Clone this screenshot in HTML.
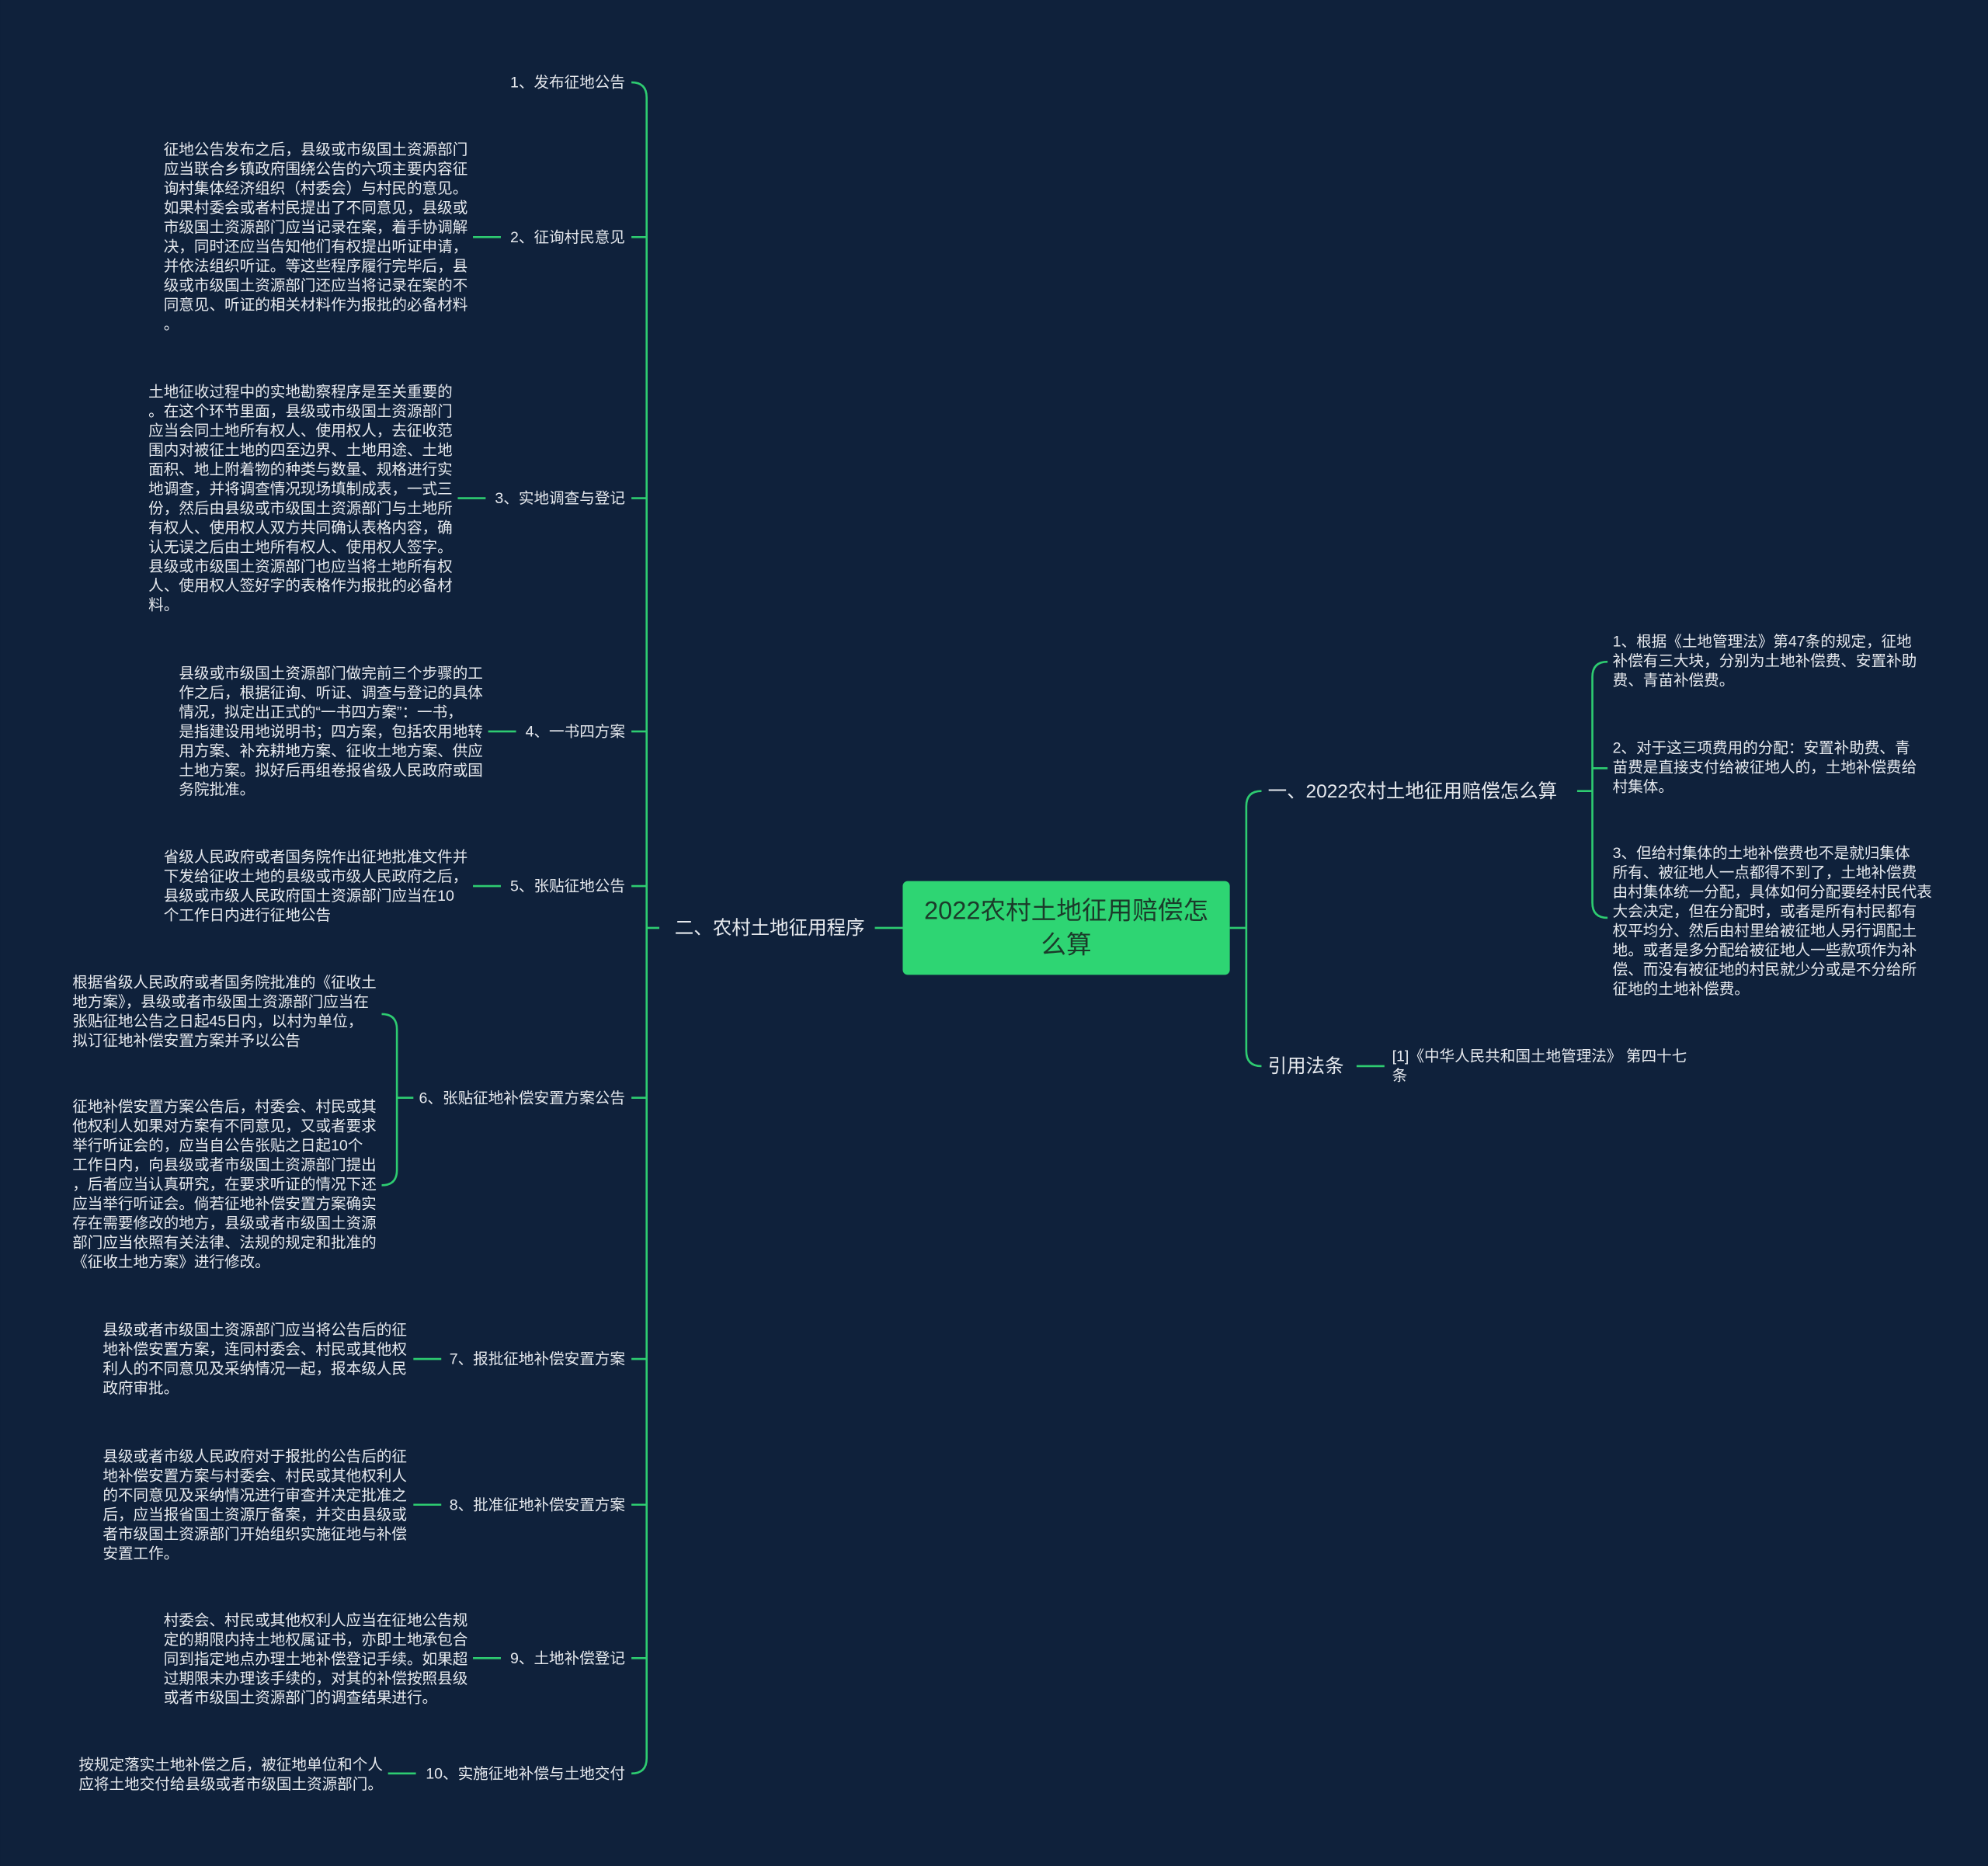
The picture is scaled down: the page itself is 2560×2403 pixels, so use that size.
<!DOCTYPE html>
<html><head><meta charset="utf-8"><style>
html,body{margin:0;padding:0;background:#0f213b;}
svg{display:block}
text{font-family:"Liberation Sans","Noto Sans CJK SC",sans-serif;fill:#e6e9ee;}
.s{font-size:12px}
.m{font-size:15px}
</style></head><body>
<svg width="2560" height="2403" viewBox="0 0 1568 1472" xmlns="http://www.w3.org/2000/svg">
<rect width="1568" height="1472" fill="#0f213b"/>
<g fill="none" stroke="#2ecc71" stroke-width="1.6">
<!-- left spine -->
<path d="M498,65 Q510,65 510,77 L510,1387 Q510,1399 498,1399"/>
<path d="M498,187 H510 M498,393 H510 M498,577 H510 M498,699 H510 M498,866 H510 M498,1072 H510 M498,1187 H510 M498,1308 H510 M510,732 H520"/>
<path d="M690,732 H712 M970,732 H983"/>
<!-- detail connectors -->
<path d="M373,187 H395 M361,393 H383 M385,577 H407 M373,699 H395 M326,1072 H348 M326,1187 H348 M373,1308 H395 M306,1399 H328"/>
<!-- item6 bracket -->
<path d="M301,800 Q313,800 313,812 L313,923 Q313,935 301,935 M313,866 H326"/>
<!-- right spine -->
<path d="M995,624 Q983,624 983,636 L983,829 Q983,841 995,841"/>
<path d="M1244,624 H1256 M1268,522 Q1256,522 1256,534 L1256,712 Q1256,724 1268,724 M1256,606 H1268"/>
<path d="M1070,841 H1092"/>
</g>
<rect x="712" y="695" width="258" height="74" rx="4" fill="#2ed573"/>
<text x="841" y="725" text-anchor="middle" style="font-size:20px;fill:#1b3b2a">2022农村土地征用赔偿怎</text>
<text x="841" y="752" text-anchor="middle" style="font-size:20px;fill:#1b3b2a">么算</text>
<text class="m" x="682" y="737" text-anchor="end">二、农村土地征用程序</text>
<text class="m" x="1000" y="629">一、2022农村土地征用赔偿怎么算</text>
<text class="m" x="1000" y="846">引用法条</text>
<g class="s" text-anchor="end">
<text x="493" y="69">1、发布征地公告</text>
<text x="493" y="191">2、征询村民意见</text>
<text x="493" y="397">3、实地调查与登记</text>
<text x="493" y="581">4、一书四方案</text>
<text x="493" y="703">5、张贴征地公告</text>
<text x="493" y="870">6、张贴征地补偿安置方案公告</text>
<text x="493" y="1076">7、报批征地补偿安置方案</text>
<text x="493" y="1191">8、批准征地补偿安置方案</text>
<text x="493" y="1312">9、土地补偿登记</text>
<text x="493" y="1403">10、实施征地补偿与土地交付</text>
</g>
<g class="s">
<text x="129" y="122"><tspan x="129">征地公告发布之后，县级或市级国土资源部门</tspan><tspan x="129" dy="15.3">应当联合乡镇政府围绕公告的六项主要内容征</tspan><tspan x="129" dy="15.3">询村集体经济组织（村委会）与村民的意见。</tspan><tspan x="129" dy="15.3">如果村委会或者村民提出了不同意见，县级或</tspan><tspan x="129" dy="15.3">市级国土资源部门应当记录在案，着手协调解</tspan><tspan x="129" dy="15.3">决，同时还应当告知他们有权提出听证申请，</tspan><tspan x="129" dy="15.3">并依法组织听证。等这些程序履行完毕后，县</tspan><tspan x="129" dy="15.3">级或市级国土资源部门还应当将记录在案的不</tspan><tspan x="129" dy="15.3">同意见、听证的相关材料作为报批的必备材料</tspan><tspan x="129" dy="15.3">。</tspan></text>
<text x="117" y="313"><tspan x="117">土地征收过程中的实地勘察程序是至关重要的</tspan><tspan x="117" dy="15.3">。在这个环节里面，县级或市级国土资源部门</tspan><tspan x="117" dy="15.3">应当会同土地所有权人、使用权人，去征收范</tspan><tspan x="117" dy="15.3">围内对被征土地的四至边界、土地用途、土地</tspan><tspan x="117" dy="15.3">面积、地上附着物的种类与数量、规格进行实</tspan><tspan x="117" dy="15.3">地调查，并将调查情况现场填制成表，一式三</tspan><tspan x="117" dy="15.3">份，然后由县级或市级国土资源部门与土地所</tspan><tspan x="117" dy="15.3">有权人、使用权人双方共同确认表格内容，确</tspan><tspan x="117" dy="15.3">认无误之后由土地所有权人、使用权人签字。</tspan><tspan x="117" dy="15.3">县级或市级国土资源部门也应当将土地所有权</tspan><tspan x="117" dy="15.3">人、使用权人签好字的表格作为报批的必备材</tspan><tspan x="117" dy="15.3">料。</tspan></text>
<text x="141" y="535"><tspan x="141">县级或市级国土资源部门做完前三个步骤的工</tspan><tspan x="141" dy="15.3">作之后，根据征询、听证、调查与登记的具体</tspan><tspan x="141" dy="15.3">情况，拟定出正式的“一书四方案”：一书，</tspan><tspan x="141" dy="15.3">是指建设用地说明书；四方案，包括农用地转</tspan><tspan x="141" dy="15.3">用方案、补充耕地方案、征收土地方案、供应</tspan><tspan x="141" dy="15.3">土地方案。拟好后再组卷报省级人民政府或国</tspan><tspan x="141" dy="15.3">务院批准。</tspan></text>
<text x="129" y="680"><tspan x="129">省级人民政府或者国务院作出征地批准文件并</tspan><tspan x="129" dy="15.3">下发给征收土地的县级或市级人民政府之后，</tspan><tspan x="129" dy="15.3">县级或市级人民政府国土资源部门应当在10</tspan><tspan x="129" dy="15.3">个工作日内进行征地公告</tspan></text>
<text x="57" y="779"><tspan x="57">根据省级人民政府或者国务院批准的《征收土</tspan><tspan x="57" dy="15.3">地方案》，县级或者市级国土资源部门应当在</tspan><tspan x="57" dy="15.3">张贴征地公告之日起45日内，以村为单位，</tspan><tspan x="57" dy="15.3">拟订征地补偿安置方案并予以公告</tspan></text>
<text x="57" y="877"><tspan x="57">征地补偿安置方案公告后，村委会、村民或其</tspan><tspan x="57" dy="15.3">他权利人如果对方案有不同意见，又或者要求</tspan><tspan x="57" dy="15.3">举行听证会的，应当自公告张贴之日起10个</tspan><tspan x="57" dy="15.3">工作日内，向县级或者市级国土资源部门提出</tspan><tspan x="57" dy="15.3">，后者应当认真研究，在要求听证的情况下还</tspan><tspan x="57" dy="15.3">应当举行听证会。倘若征地补偿安置方案确实</tspan><tspan x="57" dy="15.3">存在需要修改的地方，县级或者市级国土资源</tspan><tspan x="57" dy="15.3">部门应当依照有关法律、法规的规定和批准的</tspan><tspan x="57" dy="15.3">《征收土地方案》进行修改。</tspan></text>
<text x="81" y="1053"><tspan x="81">县级或者市级国土资源部门应当将公告后的征</tspan><tspan x="81" dy="15.3">地补偿安置方案，连同村委会、村民或其他权</tspan><tspan x="81" dy="15.3">利人的不同意见及采纳情况一起，报本级人民</tspan><tspan x="81" dy="15.3">政府审批。</tspan></text>
<text x="81" y="1153"><tspan x="81">县级或者市级人民政府对于报批的公告后的征</tspan><tspan x="81" dy="15.3">地补偿安置方案与村委会、村民或其他权利人</tspan><tspan x="81" dy="15.3">的不同意见及采纳情况进行审查并决定批准之</tspan><tspan x="81" dy="15.3">后，应当报省国土资源厅备案，并交由县级或</tspan><tspan x="81" dy="15.3">者市级国土资源部门开始组织实施征地与补偿</tspan><tspan x="81" dy="15.3">安置工作。</tspan></text>
<text x="129" y="1282"><tspan x="129">村委会、村民或其他权利人应当在征地公告规</tspan><tspan x="129" dy="15.3">定的期限内持土地权属证书，亦即土地承包合</tspan><tspan x="129" dy="15.3">同到指定地点办理土地补偿登记手续。如果超</tspan><tspan x="129" dy="15.3">过期限未办理该手续的，对其的补偿按照县级</tspan><tspan x="129" dy="15.3">或者市级国土资源部门的调查结果进行。</tspan></text>
<text x="62" y="1396"><tspan x="62">按规定落实土地补偿之后，被征地单位和个人</tspan><tspan x="62" dy="15.3">应将土地交付给县级或者市级国土资源部门。</tspan></text>
<text x="1272" y="510"><tspan x="1272">1、根据《土地管理法》第47条的规定，征地</tspan><tspan x="1272" dy="15.3">补偿有三大块，分别为土地补偿费、安置补助</tspan><tspan x="1272" dy="15.3">费、青苗补偿费。</tspan></text>
<text x="1272" y="594"><tspan x="1272">2、对于这三项费用的分配：安置补助费、青</tspan><tspan x="1272" dy="15.3">苗费是直接支付给被征地人的，土地补偿费给</tspan><tspan x="1272" dy="15.3">村集体。</tspan></text>
<text x="1272" y="677"><tspan x="1272">3、但给村集体的土地补偿费也不是就归集体</tspan><tspan x="1272" dy="15.3">所有、被征地人一点都得不到了，土地补偿费</tspan><tspan x="1272" dy="15.3">由村集体统一分配，具体如何分配要经村民代表</tspan><tspan x="1272" dy="15.3">大会决定，但在分配时，或者是所有村民都有</tspan><tspan x="1272" dy="15.3">权平均分、然后由村里给被征地人另行调配土</tspan><tspan x="1272" dy="15.3">地。或者是多分配给被征地人一些款项作为补</tspan><tspan x="1272" dy="15.3">偿、而没有被征地的村民就少分或是不分给所</tspan><tspan x="1272" dy="15.3">征地的土地补偿费。</tspan></text>
<text x="1098" y="837"><tspan x="1098">[1]《中华人民共和国土地管理法》 第四十七</tspan><tspan x="1098" dy="15.3">条</tspan></text>
</g>
</svg>
</body></html>
